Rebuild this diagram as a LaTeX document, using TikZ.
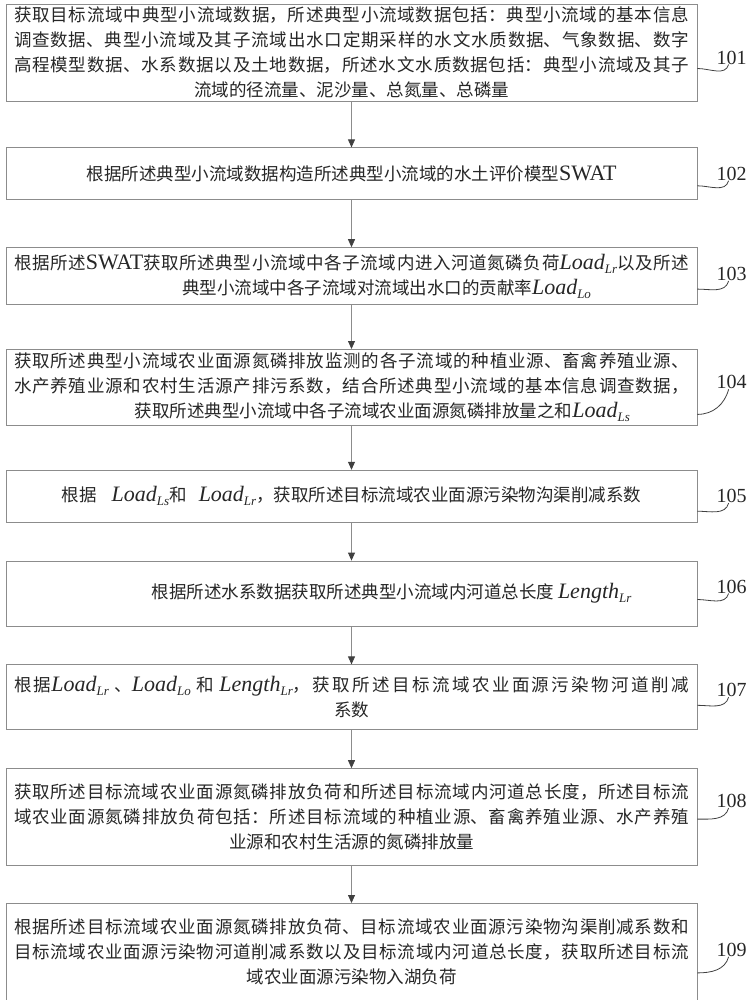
\documentclass[tikz,border=0pt]{standalone}
\usepackage{fontspec}
\setmainfont{Noto Sans CJK SC}
\newfontfamily\latin{Liberation Serif}
\usetikzlibrary{positioning, arrows.meta}
\XeTeXlinebreaklocale "zh"
\XeTeXlinebreakskip=0pt plus 3pt minus 0.5pt
\XeTeXlinebreakpenalty=0
\tolerance=9999
\newcommand{\midlast}{\leftskip=0pt plus 1fil\rightskip=0pt plus -1fil\parfillskip=0pt plus 2fil\relax}
\newcommand{\vsym}[2]{{\latin\itshape\fontsize{22}{25}\selectfont #1\raisebox{-4pt}{\fontsize{13}{13}\selectfont #2}}}
\newcommand{\rom}[1]{{\latin\fontsize{22}{25}\selectfont #1}}
\tikzset{
	>={Triangle[length=8pt,width=7pt,color=black!75]},
	node distance=44pt,
	stepbox/.style={draw=black!45, line width=0.8pt, text width=675pt, inner xsep=8pt, inner ysep=2pt, align=justify, font=\fontsize{17.5}{25}\selectfont, text=black!85, execute at begin node=\midlast},
	tag/.style={inner sep=0pt, font=\latin\fontsize{20}{20}\selectfont, text=black!85},
	flow/.style={->, draw=black!45, line width=0.8pt},
	leader/.style={draw=black!75, line width=0.8pt},
}
\begin{document}
\begin{tikzpicture}
			\useasboundingbox (0,0) rectangle (748pt,-1000pt);
			\node[stepbox, minimum height=97pt] (S1) at (351.5pt,-52.5pt) {获取目标流域中典型小流域数据，所述典型小流域数据包括：典型小流域的基本信息\linebreak 调查数据、典型小流域及其子流域出水口定期采样的水文水质数据、气象数据、数字\linebreak 高程模型数据、水系数据以及土地数据，所述水文水质数据包括：典型小流域及其子\linebreak 流域的径流量、泥沙量、总氮量、总磷量};
			\node[stepbox, minimum height=52pt, below=46pt of S1] (S2) {根据所述典型小流域数据构造所述典型小流域的水土评价模型\rom{SWAT}};
			\node[stepbox, minimum height=57pt, below=47pt of S2] (S3) {根据所述\rom{SWAT}获取所述典型小流域中各子流域内进入河道氮磷负荷\vsym{Load}{Lr}以及所述\linebreak\hspace*{70pt}典型小流域中各子流域对流域出水口的贡献率\vsym{Load}{Lo}};
			\node[stepbox, minimum height=76pt, below=44pt of S3] (S4) {获取所述典型小流域农业面源氮磷排放监测的各子流域的种植业源、畜禽养殖业源、\linebreak 水产养殖业源和农村生活源产排污系数，结合所述典型小流域的基本信息调查数据，\linebreak\hspace*{62pt}获取所述典型小流域中各子流域农业面源氮磷排放量之和\vsym{Load}{Ls}};
			\node[stepbox, minimum height=52pt, below=44pt of S4] (S5) {根据\hspace{15pt}\vsym{Load}{Ls}和\hspace{12pt}\vsym{Load}{Lr}，获取所述目标流域农业面源污染物沟渠削减系数};
			\node[stepbox, minimum height=65pt, below=38pt of S5] (S6) {\hspace*{80pt}根据所述水系数据获取所述典型小流域内河道总长度 \vsym{Length}{Lr}};
			\node[stepbox, minimum height=65pt, below=38pt of S6] (S7) {根据\vsym{Load}{Lr} 、\vsym{Load}{Lo} 和 \vsym{Length}{Lr}，获取所述目标流域农业面源污染物河道削减\linebreak 系数};
			\node[stepbox, minimum height=97pt, below=38pt of S7] (S8) {获取所述目标流域农业面源氮磷排放负荷和所述目标流域内河道总长度，所述目标流\linebreak 域农业面源氮磷排放负荷包括：所述目标流域的种植业源、畜禽养殖业源、水产养殖\linebreak 业源和农村生活源的氮磷排放量};
			\node[stepbox, minimum height=97pt, below=37pt of S8] (S9) {根据所述目标流域农业面源氮磷排放负荷、目标流域农业面源污染物沟渠削减系数和\linebreak 目标流域农业面源污染物河道削减系数以及目标流域内河道总长度，获取所述目标流\linebreak 域农业面源污染物入湖负荷};
			
			\node[tag, right=19pt of S1.east, yshift=-5pt] (n101) {101};
			\node[tag, right=19pt of S2.east] (n102) {102};
			\node[tag, right=19pt of S3.east, yshift=2pt] (n103) {103};
			\node[tag, right=19pt of S4.east, yshift=5pt] (n104) {104};
			\node[tag, right=19pt of S5.east] (n105) {105};
			\node[tag, right=19pt of S6.east, yshift=7pt] (n106) {106};
			\node[tag, right=19pt of S7.east, yshift=7pt] (n107) {107};
			\node[tag, right=19pt of S8.east, yshift=16pt] (n108) {108};
			\node[tag, right=19pt of S9.east, yshift=2pt] (n109) {109};
			
			\draw[flow] (S1) -- (S2);
			\draw[flow] (S2) -- (S3);
			\draw[flow] (S3) -- (S4);
			\draw[flow] (S4) -- (S5);
			\draw[flow] (S5) -- (S6);
			\draw[flow] (S6) -- (S7);
			\draw[flow] (S7) -- (S8);
			\draw[flow] (S8) -- (S9);
			
			\draw[leader] ([yshift=-16pt]S1.east) to[out=0, in=-105] ([xshift=-3pt]n101.south);
			\draw[leader] ([yshift=-12pt]S2.east) to[out=0, in=-105] ([xshift=-3pt]n102.south);
			\draw[leader] ([yshift=-13pt]S3.east) to[out=0, in=-105] ([xshift=-3pt]n103.south);
			\draw[leader] ([yshift=-27pt]S4.east) to[out=0, in=-105] ([xshift=-3pt]n104.south);
			\draw[leader] ([yshift=-15pt]S5.east) to[out=0, in=-105] ([xshift=-3pt]n105.south);
			\draw[leader] ([yshift=-6pt]S6.east) to[out=0, in=-105] ([xshift=-3pt]n106.south);
			\draw[leader] ([yshift=-8pt]S7.east) to[out=0, in=-105] ([xshift=-3pt]n107.south);
			\draw[leader] ([yshift=-2pt]S8.east) to[out=0, in=-105] ([xshift=-3pt]n108.south);
			\draw[leader] ([yshift=-21pt]S9.east) to[out=0, in=-105] ([xshift=-3pt]n109.south);
			
		\end{tikzpicture}
\end{document}
